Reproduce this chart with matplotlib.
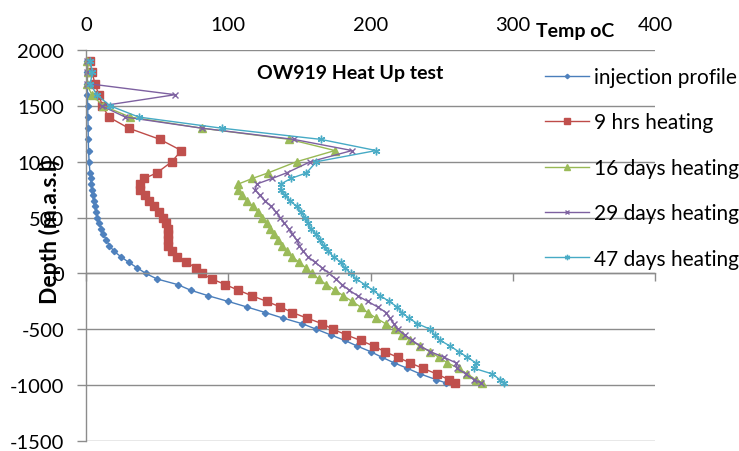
import matplotlib
matplotlib.use('Agg')
import matplotlib.pyplot as plt

plt.rcParams['font.family'] = ['Lato', 'DejaVu Sans']
plt.rcParams['axes.unicode_minus'] = False

# ---------------- data ----------------
depth = [1900, 1800, 1700, 1600, 1500, 1400, 1300, 1200, 1100, 1000,
         900, 850, 800, 750, 700, 650, 600, 550, 500, 450, 400, 350, 300, 250,
         200, 150, 100, 50, 0,
         -50, -100, -150, -200, -250, -300, -350, -400, -450, -500, -550, -600,
         -650, -700, -750, -800, -850, -900, -950, -980]

injection_profile = [1, 1, 1, 1, 1.2, 1.3, 1.5, 1.6, 1.8, 2.2,
                     2.8, 3.3, 3.6, 4.1, 4.6, 5.3, 6, 7, 8, 9.2, 10.6, 12.3, 14.2, 16.5,
                     19.5, 24.5, 30, 36, 42,
                     50, 64.5, 73.5, 86, 99.8, 113, 126, 138.5, 152, 162, 172, 182,
                     190.6, 200, 208, 216.5, 226, 235, 246, 253]

hrs9 = [3, 4.2, 6.3, 9, 11.5, 16, 30, 52, 67, 60.3,
        49.8, 41, 38, 38, 41.5, 44, 48, 51.6, 54, 56.3, 57.5, 57.5, 57.3, 57.3,
        60.3, 64.3, 70.4, 77.5, 81.5,
        88.5, 98, 107, 116.7, 127, 136.6, 145, 155.4, 166, 173.7, 183, 193,
        202.3, 210, 219, 227.7, 237, 246.5, 255, 259.4]

days16 = [1, 1.5, 0.5, 4, 12, 31, 81.5, 143, 175, 148,
          128, 117, 107, 107, 110, 113, 117.5, 121, 124, 127, 129.5, 132.5, 135, 138,
          141, 144.5, 150, 154.5, 159,
          163.5, 169, 175, 181, 187, 193, 198, 204, 210.6, 217, 221.8, 228,
          234.7, 241.8, 248, 254, 262, 268, 274, 278.6]

days29 = [0.5, 0.5, 0.5, 62.7, 11, 27.5, 81.5, 146, 187, 157.7,
          141, 130.8, 120, 119, 122, 126, 130, 133.5, 136.5, 139.5, 142.5, 145, 148, 150,
          152.5, 156, 161, 166, 171,
          175.5, 180, 185, 191, 198, 205, 211, 213.5, 216.4, 219, 224, 229.4,
          235, 242, 251.6, 260, 261, 267, 272.7, 277.5]

days47 = [3, 4.5, 3, 7.5, 17, 37, 95.5, 165, 204, 162,
          155, 144, 137, 137, 139.7, 143.7, 148, 151, 154, 156, 158, 162, 164.5, 167,
          170, 174, 179, 182, 186,
          190, 196, 201.6, 207, 213, 218.8, 222, 227, 233, 242, 245, 249,
          256, 262, 268, 274, 273, 285.7, 290.8, 294]

series_labels = ['injection profile', '9 hrs heating', '16 days heating',
                 '29 days heating', '47 days heating']
x_ticks = [0, 100, 200, 300, 400]
y_ticks = [-1500, -1000, -500, 0, 500, 1000, 1500, 2000]

# ---------------- styles ----------------
styles = [
    dict(color='#4A7EBB', marker='D', markersize=3.2, mfc='#4F81BD', mec='#4F81BD'),
    dict(color='#BE4B48', marker='s', markersize=5.2, mfc='#C0504D', mec='#C0504D'),
    dict(color='#98B954', marker='^', markersize=5.5, mfc='#9BBB59', mec='#9BBB59'),
    dict(color='#7D60A0', marker='x', markersize=4.5, mfc='#8064A2', mec='#8064A2', mew=1.0),
    dict(color='#46AAC5', marker=(6, 2, 0), markersize=5.5, mfc='#4BACC6', mec='#4BACC6', mew=1.0),
]

fig = plt.figure(figsize=(7.39, 4.52), dpi=100)
ax = fig.add_axes([86 / 739, 10 / 452, (655 - 86) / 739, (442 - 51) / 452])

all_series = [injection_profile, hrs9, days16, days29, days47]
for vals, lab, st in zip(all_series, series_labels, styles):
    ax.plot(vals, depth, label=lab, linewidth=1.0, clip_on=False, **st)

grid_col = '#8C8C8C'
ax.set_xlim(0, 400)
ax.set_ylim(-1500, 2000)
ax.set_xticks(x_ticks)
ax.set_xticklabels([str(v) for v in x_ticks])
ax.set_yticks(y_ticks)
ax.set_yticklabels([str(v) for v in y_ticks])

for s in ['top', 'right']:
    ax.spines[s].set_visible(False)
ax.spines['left'].set_color(grid_col)
ax.spines['left'].set_linewidth(1.0)
ax.spines['bottom'].set_position(('data', 0))
ax.spines['bottom'].set_color(grid_col)
ax.spines['bottom'].set_linewidth(1.0)

ax.yaxis.grid(True, color=grid_col, linewidth=1.0)
ax.set_axisbelow(True)

ax.tick_params(axis='y', direction='out', length=6.5, width=1.0, color=grid_col,
               labelsize=14.5, pad=9, labelcolor='#000000')
ax.tick_params(axis='x', bottom=True, top=False, labelbottom=False, labeltop=True,
               direction='out', length=5.5, width=1.0, color=grid_col,
               labelsize=14.5, pad=7, labelcolor='#000000')

fig.text(350 / 739, 1 - 73 / 452, 'OW919 Heat Up test', ha='center', va='center',
         fontweight='bold', fontsize=14)
fig.text(575 / 739, 1 - 32 / 452, 'Temp oC', ha='center', va='center',
         fontweight='bold', fontsize=14)
fig.text(50 / 739, 1 - 232 / 452, 'Depth (m.a.s.l)', ha='center', va='center',
         rotation=90, fontweight='bold', fontsize=16.5)

leg = fig.legend(loc='upper left', bbox_to_anchor=(545 / 739, 1 - 68 / 452),
                 bbox_transform=fig.transFigure, frameon=False, fontsize=15,
                 numpoints=1, markerscale=0.7, handlelength=2.1, handletextpad=0.25,
                 labelspacing=1.22, borderpad=0, borderaxespad=0)

fig.savefig('out.png', dpi=100)
